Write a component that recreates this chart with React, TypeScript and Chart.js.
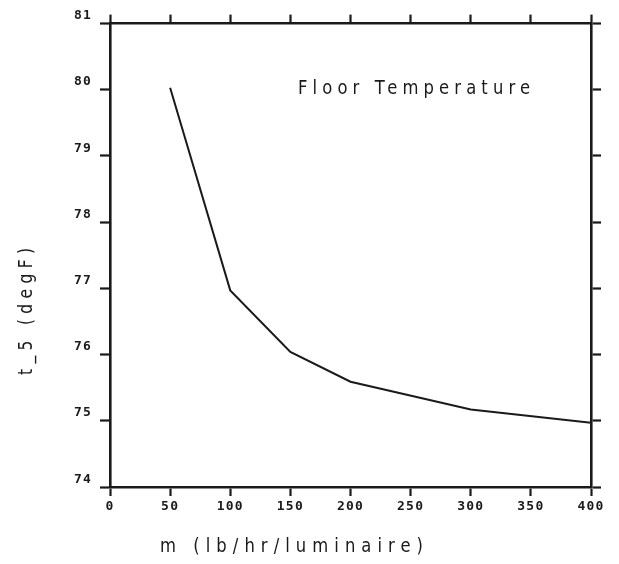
import React, { useEffect, useRef } from "react";
import { Chart, registerables } from "chart.js";

Chart.register(...registerables);

const mValues = [50, 100, 150, 200, 300, 400];
const t5Values = [80.03, 76.97, 76.04, 75.59, 75.17, 74.97];
const xTicks = [0, 50, 100, 150, 200, 250, 300, 350, 400];
const yTicks = [74, 75, 76, 77, 78, 79, 80, 81];
const chartTitle = "Floor Temperature";
const xTitle = "m (lb/hr/luminaire)";
const yTitle = "t_5 (degF)";

const INK = "#1a1a1a";

// draw text starting at (x, baseline y), horizontally compressed by sx,
// letter-spaced so that it spans targetWidth pixels
function drawFitted(
  ctx: CanvasRenderingContext2D,
  text: string,
  x: number,
  y: number,
  font: string,
  targetWidth: number,
  sx: number
) {
  ctx.save();
  ctx.font = font;
  (ctx as any).letterSpacing = "0px";
  const w = ctx.measureText(text).width;
  const n = text.length;
  const spacing = Math.max(0, (targetWidth / sx - w) / (n - 1));
  (ctx as any).letterSpacing = spacing.toFixed(2) + "px";
  ctx.translate(x, y);
  ctx.scale(sx, 1);
  ctx.textAlign = "left";
  ctx.textBaseline = "alphabetic";
  ctx.fillText(text, 0, 0);
  ctx.restore();
}

const textPlugin = {
  id: "plotterText",
  beforeDraw(chart: any) {
    (chart.ctx as any).letterSpacing = "1.2px";
  },
  afterDraw(chart: any) {
    const ctx = chart.ctx as CanvasRenderingContext2D;
    ctx.save();
    ctx.fillStyle = INK;
    drawFitted(ctx, chartTitle, 298, 94, "20px 'DejaVu Sans'", 232, 0.82);
    drawFitted(ctx, xTitle, 160, 552, "20px 'DejaVu Sans'", 263, 0.82);
    ctx.save();
    ctx.translate(32, 375);
    ctx.rotate(-Math.PI / 2);
    drawFitted(ctx, yTitle, 0, 0, "19px 'DejaVu Sans'", 127, 0.82);
    ctx.restore();
    ctx.restore();
    (ctx as any).letterSpacing = "0px";
  },
};

export default function App() {
  const ref = useRef<HTMLCanvasElement | null>(null);

  useEffect(() => {
    document.body.style.margin = "0";
    const canvas = ref.current!;
    const tickFont = { family: "'DejaVu Sans Mono'", size: 13, weight: "bold" as const };
    const gridCommon = {
      drawOnChartArea: false,
      drawTicks: true,
      tickLength: 9,
      tickWidth: 2.2,
      tickColor: INK,
    };
    const borderCommon = { display: true, width: 2.6, color: INK };

    const chart = new Chart(canvas, {
      type: "line",
      data: {
        datasets: [
          {
            data: mValues.map((m, i) => ({ x: m, y: t5Values[i] })),
            borderColor: INK,
            borderWidth: 2,
            pointRadius: 0,
            fill: false,
            tension: 0,
          },
        ],
      },
      plugins: [textPlugin],
      options: {
        animation: false,
        responsive: false,
        maintainAspectRatio: false,
        layout: { padding: 0 },
        plugins: { legend: { display: false }, tooltip: { enabled: false }, title: { display: false } },
        scales: {
          x: {
            type: "linear",
            position: "bottom",
            min: 0,
            max: 400,
            afterBuildTicks: (s: any) => { s.ticks = xTicks.map((v) => ({ value: v })); },
            afterFit: (s: any) => { s.height = 77; },
            ticks: { font: tickFont, color: INK, padding: 3, maxRotation: 0, autoSkip: false },
            grid: gridCommon,
            border: borderCommon,
          },
          x2: {
            type: "linear",
            position: "top",
            min: 0,
            max: 400,
            afterBuildTicks: (s: any) => { s.ticks = xTicks.map((v) => ({ value: v })); },
            afterFit: (s: any) => { s.height = 23; },
            ticks: { display: false },
            grid: gridCommon,
            border: borderCommon,
          },
          y: {
            type: "linear",
            position: "left",
            min: 74,
            max: 81,
            afterBuildTicks: (s: any) => { s.ticks = yTicks.map((v) => ({ value: v })); },
            afterFit: (s: any) => { s.width = 110; },
            ticks: {
              font: tickFont,
              color: INK,
              padding: 8,
              autoSkip: false,
              callback: (v: any) => [String(v), ""],
            },
            grid: { ...gridCommon, tickLength: 10 },
            border: borderCommon,
          },
          y2: {
            type: "linear",
            position: "right",
            min: 74,
            max: 81,
            afterBuildTicks: (s: any) => { s.ticks = yTicks.map((v) => ({ value: v })); },
            afterFit: (s: any) => { s.width = 28; },
            ticks: { display: false },
            grid: { ...gridCommon, tickLength: 10 },
            border: borderCommon,
          },
        },
      },
    } as any);
    return () => chart.destroy();
  }, []);

  return (
    <div style={{ width: 619, height: 564, background: "#fff" }}>
      <canvas ref={ref} width={619} height={564} style={{ display: "block" }} />
    </div>
  );
}
